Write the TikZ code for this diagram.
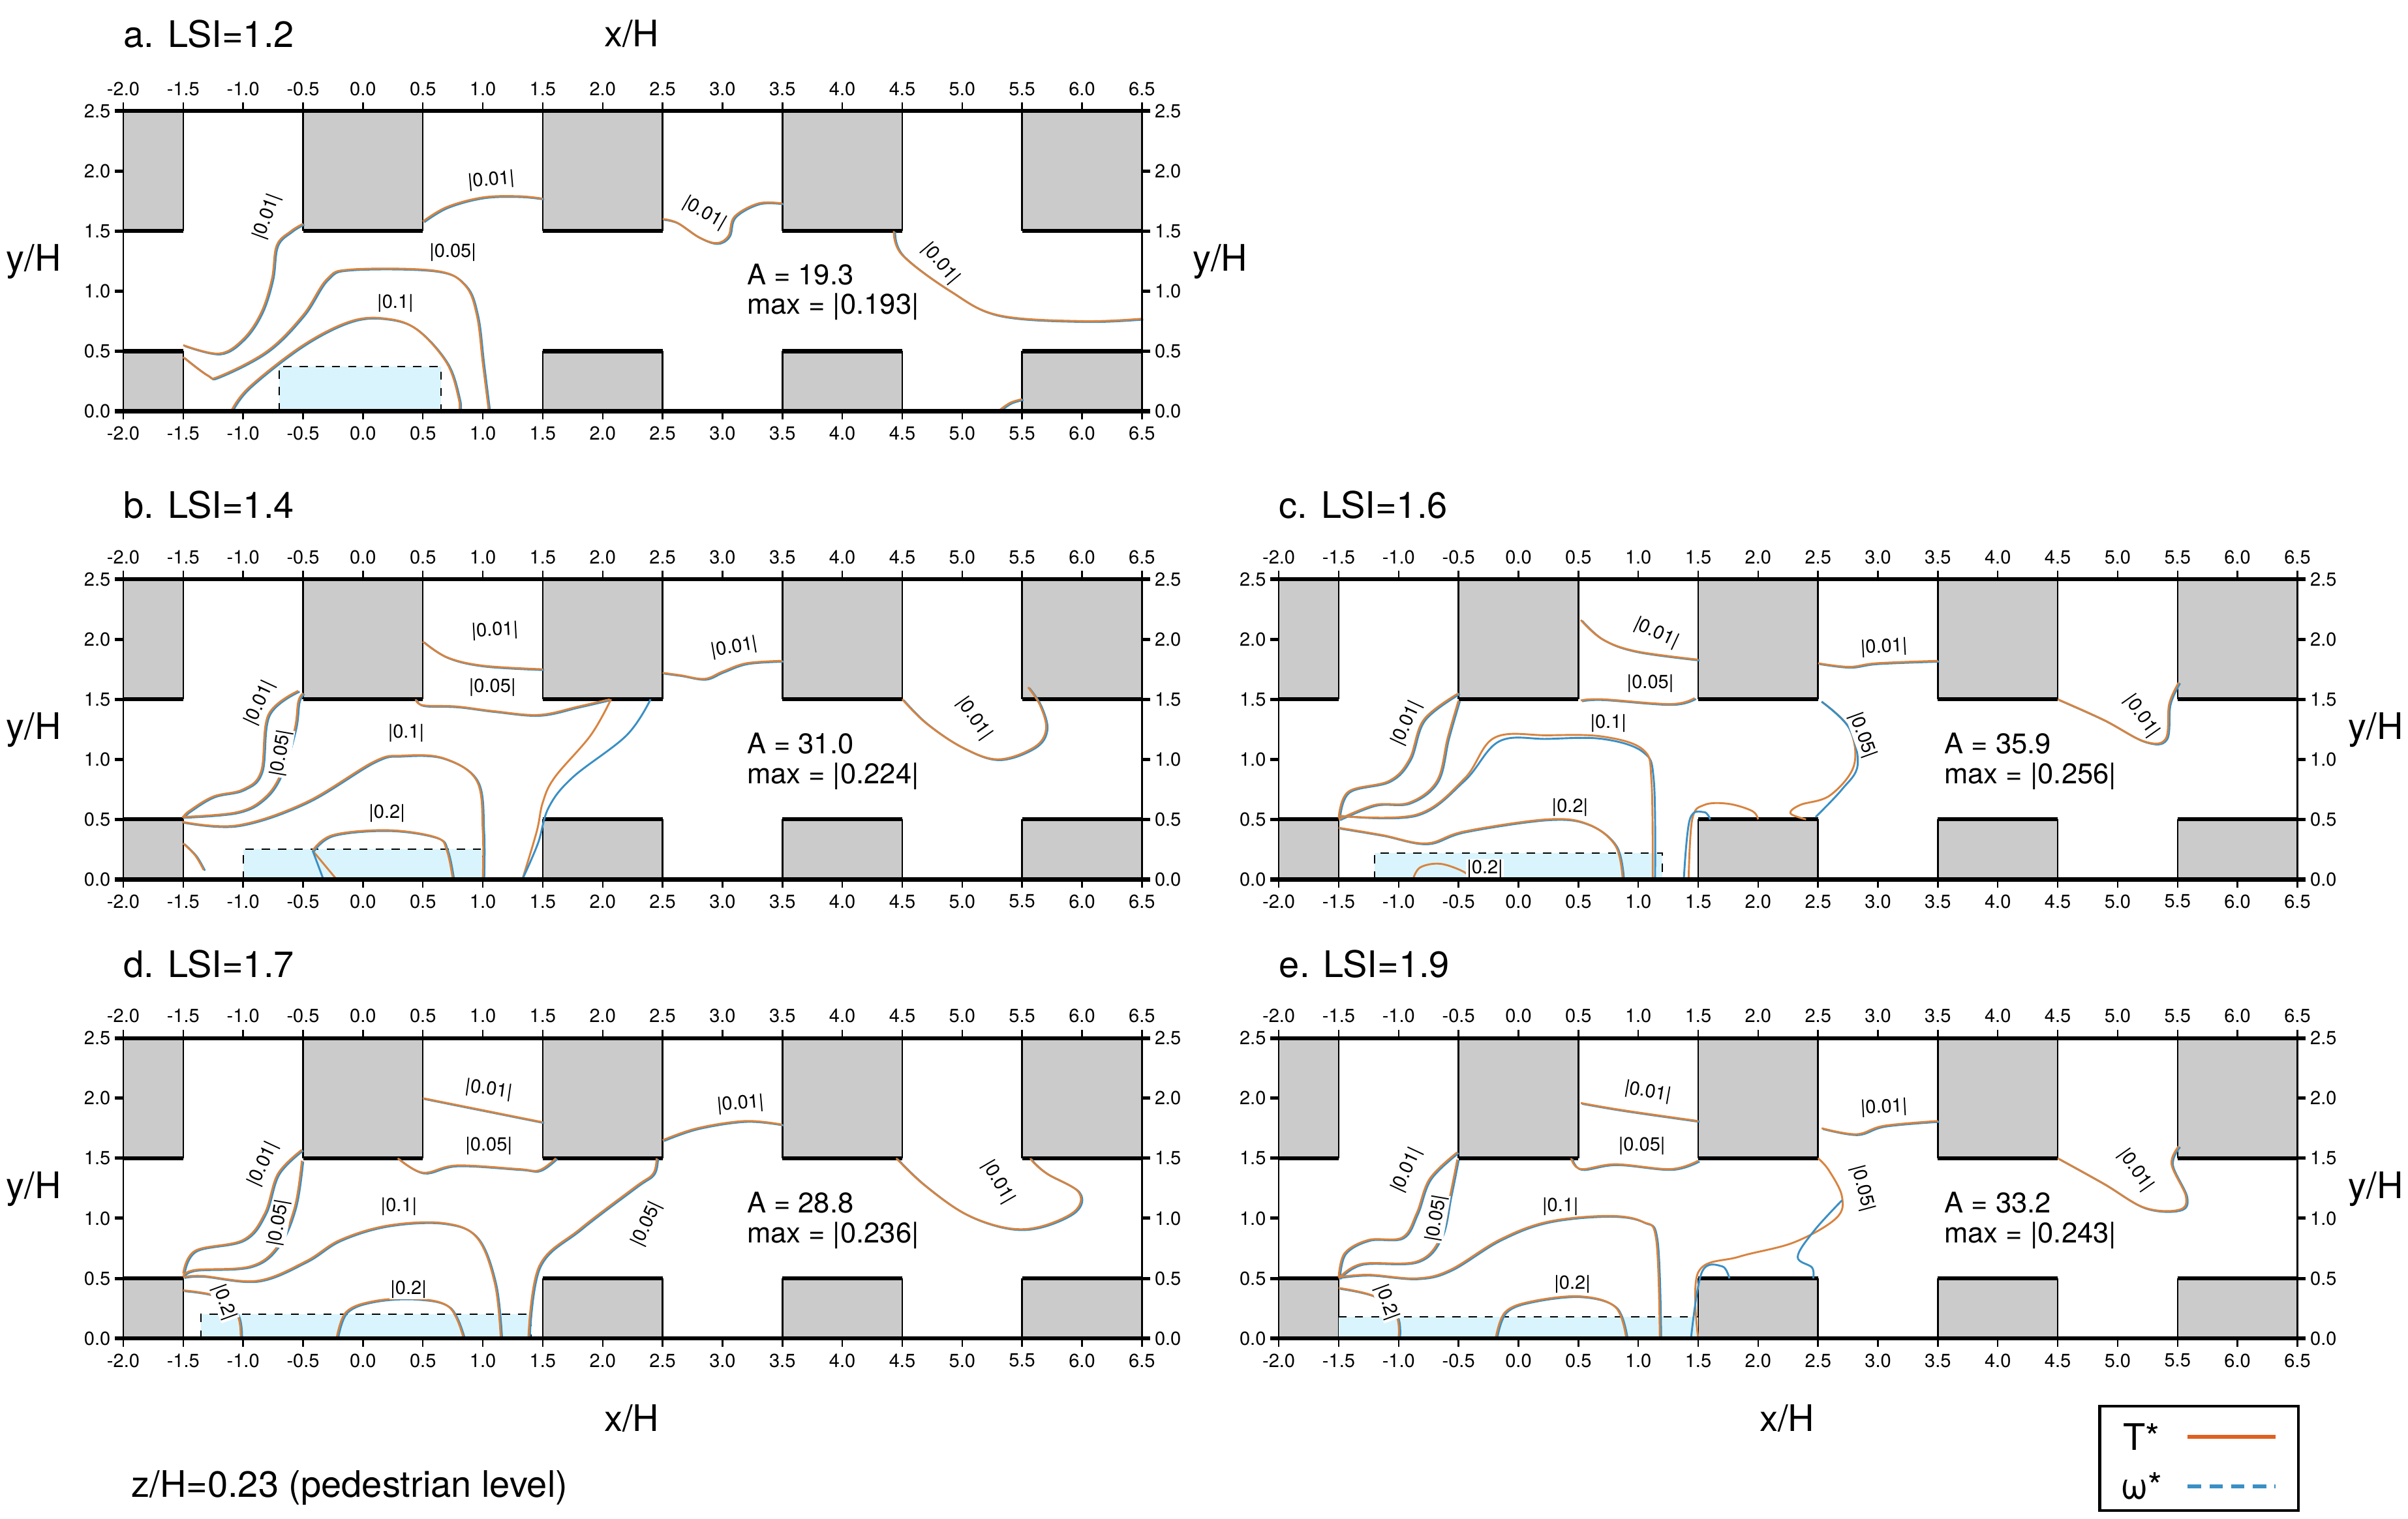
\documentclass[tikz,border=0pt]{standalone}
\usepackage{fontspec}
\setmainfont{TeX Gyre Heros}
\begin{document}
\definecolor{bld}{HTML}{CBCBCB}
\definecolor{orng}{HTML}{D8833F}
\definecolor{blu}{HTML}{3A8FC4}
\definecolor{box}{HTML}{D9F4FC}
\begin{tikzpicture}[x=0.02cm,y=-0.02cm,
  panel/.style 2 args={shift={(#1*0.02cm,-#2*0.02cm)},x=1.556cm,y=1.56cm},
  tk/.style={font=\fontsize{7}{8}\selectfont,inner sep=1pt},
  cl/.style={font=\fontsize{7}{8}\selectfont,fill=white,inner sep=0.3pt},
  ann/.style={font=\fontsize{10.5}{12}\selectfont,anchor=west,inner sep=0pt},
  ttl/.style={font=\fontsize{13.5}{15}\selectfont,anchor=west,inner sep=0pt},
  ax/.style={font=\fontsize{13.5}{15}\selectfont,inner sep=0pt},
  ob/.style={orng,line width=0.7pt},
  bb/.style={blu,line width=0.7pt},
  dbox/.style={fill=box,draw=black,dashed,line width=0.5pt}]
\useasboundingbox (0,0) rectangle (1563,986);
\newcommand\basepanel{%
  \foreach \bc in {-2,0,2,4,6}{%
    \pgfmathsetmacro\ex{min(\bc+0.5,6.5)}
    \pgfmathsetmacro\sx{max(\bc-0.5,-2)}
    \fill[bld] (\sx,1.5) rectangle (\ex,2.5);
    \draw[line width=0.6pt] (\sx,1.5) -- (\sx,2.5) (\ex,1.5) -- (\ex,2.5);
    \draw[line width=1.5pt] (\sx,1.5) -- (\ex,1.5);
  }
  \foreach \bc in {-2,2,4,6}{%
    \pgfmathsetmacro\ex{min(\bc+0.5,6.5)}
    \pgfmathsetmacro\sx{max(\bc-0.5,-2)}
    \fill[bld] (\sx,0) rectangle (\ex,0.5);
    \draw[line width=0.6pt] (\sx,0) -- (\sx,0.5) (\ex,0) -- (\ex,0.5);
    \draw[line width=1.5pt] (\sx,0.5) -- (\ex,0.5);
  }
}
\newcommand\framepanel{%
  \draw[line width=0.6pt] (-2,0) -- (-2,2.5) (6.5,0) -- (6.5,2.5);
  \draw[line width=1.5pt] (-2.07,0) -- (6.57,0) (-2.07,2.5) -- (6.57,2.5);
  \foreach \v/\t in {-2/-2.0,-1.5/-1.5,-1/-1.0,-0.5/-0.5,0/0.0,0.5/0.5,1/1.0,1.5/1.5,2/2.0,2.5/2.5,3/3.0,3.5/3.5,4/4.0,4.5/4.5,5/5.0,5.5/5.5,6/6.0,6.5/6.5}{%
    \draw[line width=0.6pt] (\v,2.5) -- (\v,2.57) (\v,0) -- (\v,-0.07);
    \node[tk,anchor=south] at (\v,2.6) {\t};
    \node[tk,anchor=north] at (\v,-0.1) {\t};
  }
  \foreach \v/\t in {0/0.0,0.5/0.5,1/1.0,1.5/1.5,2/2.0,2.5/2.5}{%
    \draw[line width=1.2pt] (6.5,\v) -- (6.57,\v) (-2,\v) -- (-2.07,\v);
    \node[tk,anchor=west] at (6.58,\v) {\t};
    \node[tk,anchor=east] at (-2.08,\v) {\t};
  }
}
\newcommand\cp[1]{%
  \draw[bb,xshift=0.5pt,yshift=-0.3pt] plot[smooth,tension=0.6] coordinates {#1};
  \draw[ob] plot[smooth,tension=0.6] coordinates {#1};}
\newcommand\co[1]{\draw[ob] plot[smooth,tension=0.6] coordinates {#1};}
\newcommand\cb[1]{\draw[bb] plot[smooth,tension=0.6] coordinates {#1};}

% ---------- panel a ----------
\begin{scope}[panel={235.6}{267}]
\basepanel
\draw[dbox] (-0.7,0) rectangle (0.65,0.37);
\cp{(-1.5,0.55) (-1.2,0.48) (-1.0,0.6) (-0.85,0.82) (-0.76,1.1) (-0.72,1.38) (-0.6,1.5) (-0.5,1.56)}
\cp{(0.5,1.58) (0.7,1.7) (1.0,1.78) (1.3,1.79) (1.5,1.77)}
\cp{(2.5,1.6) (2.62,1.57) (2.8,1.45) (2.95,1.4) (3.05,1.46) (3.1,1.62) (3.3,1.73) (3.5,1.73)}
\cp{(4.43,1.5) (4.5,1.3) (4.9,1.0) (5.3,0.8) (6.0,0.75) (6.5,0.77)}
\cp{(-1.5,0.45) (-1.3,0.3) (-1.2,0.29) (-0.8,0.5) (-0.5,0.8) (-0.3,1.1) (-0.1,1.18) (0.6,1.17) (0.85,1.05) (0.95,0.8) (1.0,0.4) (1.05,0)}
\cp{(-1.1,0) (-0.95,0.2) (-0.5,0.55) (-0.1,0.75) (0.2,0.77) (0.45,0.68) (0.7,0.4) (0.8,0.1) (0.8,0)}
\cp{(5.3,0) (5.4,0.07) (5.5,0.1)}
\node[cl,rotate=70] (a1) at (-0.8,1.62) {|0.01|};
\node[cl,rotate=5] (a2) at (1.07,1.92) {|0.01|};
\node[cl,rotate=-30] (a3) at (2.85,1.65) {|0.01|};
\node[cl,rotate=-50] (a4) at (4.82,1.23) {|0.01|};
\node[cl] (a5) at (0.75,1.32) {|0.05|};
\node[cl] (a6) at (0.27,0.9) {|0.1|};
\framepanel
\node[ann] (aA) at (3.2,1.14) {A = 19.3};
\node[ann] (aM) at (3.2,0.87) {max = |0.193|};
\end{scope}
\node[ttl] (ta) at (80,22) {a. LSI=1.2};
\node[ax] (xa) at (410,22) {x/H};
\node[ax] (ya1) at (22,170) {y/H};
\node[ax] (ya2) at (792,170) {y/H};

% ---------- panel b ----------
\begin{scope}[panel={235.6}{571}]
\basepanel
\draw[dbox] (-1.0,0) rectangle (1.0,0.25);
\cp{(0.5,1.98) (0.7,1.85) (1.0,1.78) (1.5,1.75)}
\cp{(2.5,1.72) (2.65,1.7) (2.85,1.67) (3.0,1.73) (3.2,1.8) (3.5,1.82)}
\cp{(4.5,1.5) (4.7,1.3) (5.0,1.1) (5.3,1.0) (5.6,1.1) (5.7,1.25) (5.65,1.45) (5.55,1.6)}
\cp{(-1.5,0.52) (-1.45,0.57) (-1.25,0.69) (-1.0,0.75) (-0.85,0.9) (-0.79,1.37) (-0.54,1.57)}
\cp{(-1.51,0.52) (-1.05,0.56) (-0.82,0.68) (-0.68,0.89) (-0.57,1.25) (-0.54,1.48) (-0.5,1.55)}
\cp{(0.44,1.5) (0.5,1.45) (0.78,1.44) (1.1,1.4) (1.47,1.37) (1.8,1.44) (2.06,1.5)}
\co{(2.07,1.5) (1.9,1.2) (1.6,0.85) (1.5,0.64) (1.45,0.4) (1.33,0)}
\cb{(2.4,1.5) (2.2,1.2) (1.75,0.85) (1.55,0.6) (1.46,0.3) (1.33,0)}
\cp{(-1.51,0.48) (-1.05,0.45) (-0.48,0.64) (0.09,0.98) (0.32,1.03) (0.67,1.01) (0.95,0.82) (1.0,0.4) (1.0,0)}
\cp{(-0.42,0.24) (-0.25,0.37) (0.21,0.41) (0.61,0.35) (0.7,0.24) (0.75,0)}
\co{(-0.42,0.24) (-0.22,0)}
\cb{(-0.42,0.24) (-0.33,0)}
\cp{(-1.5,0.3) (-1.4,0.2) (-1.33,0.08)}
\node[cl,rotate=65] at (-0.86,1.47) {|0.01|};
\node[cl,rotate=80] at (-0.68,1.05) {|0.05|};
\node[cl,rotate=3] at (1.1,2.07) {|0.01|};
\node[cl,rotate=10] at (3.1,1.93) {|0.01|};
\node[cl,rotate=-55] at (5.1,1.34) {|0.01|};
\node[cl] at (1.08,1.6) {|0.05|};
\node[cl] at (0.36,1.22) {|0.1|};
\node[cl] at (0.2,0.55) {|0.2|};
\framepanel
\node[ann] at (3.2,1.13) {A = 31.0};
\node[ann] at (3.2,0.86) {max = |0.224|};
\end{scope}
\node[ttl] (tb) at (80,328) {b. LSI=1.4};
\node[ax] (yb) at (22,474) {y/H};

% ---------- panel c ----------
\begin{scope}[panel={985.6}{571}]
\basepanel
\draw[dbox] (-1.2,0) rectangle (1.2,0.22);
\cp{(0.52,2.16) (0.7,2.0) (0.98,1.9) (1.5,1.83)}
\cp{(2.5,1.8) (2.76,1.77) (2.99,1.8) (3.5,1.82)}
\cp{(4.5,1.5) (4.88,1.33) (5.22,1.15) (5.4,1.17) (5.43,1.46) (5.51,1.64)}
\cp{(-1.5,0.51) (-1.42,0.73) (-1.08,0.82) (-0.91,1.0) (-0.79,1.33) (-0.5,1.55)}
\cp{(-1.5,0.5) (-1.2,0.62) (-0.91,0.64) (-0.68,0.82) (-0.59,1.18) (-0.5,1.49)}
\cb{(-1.5,0.53) (-0.85,0.53) (-0.45,0.82) (-0.16,1.15) (0.24,1.17) (0.7,1.17) (1.04,1.06) (1.13,0.82) (1.14,0)}
\co{(-1.5,0.53) (-0.85,0.54) (-0.45,0.84) (-0.2,1.18) (0.24,1.2) (0.7,1.19) (1.04,1.08) (1.11,0.82) (1.12,0)}
\cp{(-1.5,0.43) (-1.14,0.37) (-0.77,0.3) (-0.45,0.4) (0.24,0.5) (0.58,0.46) (0.81,0.28) (0.87,0)}
\co{(-0.88,0) (-0.82,0.1) (-0.65,0.13) (-0.45,0.06) (-0.42,0)}
\cp{(0.52,1.49) (0.7,1.5) (1.27,1.46) (1.47,1.51)}
\co{(2.53,1.48) (2.76,1.26) (2.8,0.95) (2.6,0.7) (2.35,0.62) (2.27,0.55) (2.4,0.5)}
\cb{(2.53,1.48) (2.76,1.26) (2.83,0.95) (2.7,0.75) (2.48,0.52)}
\co{(1.42,0) (1.45,0.5) (1.55,0.62) (1.75,0.63) (1.95,0.57) (2.0,0.5)}
\cb{(1.38,0) (1.43,0.5) (1.55,0.56) (1.6,0.5)}
\node[cl,rotate=65] at (-0.93,1.3) {|0.01|};
\node[cl,rotate=-25] at (1.15,2.05) {|0.01|};
\node[cl,rotate=3] at (3.05,1.93) {|0.01|};
\node[cl,rotate=-55] at (5.2,1.36) {|0.01|};
\node[cl] at (1.1,1.63) {|0.05|};
\node[cl,rotate=-70] at (2.87,1.2) {|0.05|};
\node[cl] at (0.75,1.3) {|0.1|};
\node[cl] at (0.43,0.6) {|0.2|};
\node[cl] at (-0.28,0.09) {|0.2|};
\framepanel
\node[ann] at (3.55,1.13) {A = 35.9};
\node[ann] at (3.55,0.86) {max = |0.256|};
\end{scope}
\node[ttl] (tc) at (830,328) {c. LSI=1.6};
\node[ax] (yc) at (1542,474) {y/H};

% ---------- panel d ----------
\begin{scope}[panel={235.6}{869}]
\basepanel
\draw[dbox] (-1.35,0) rectangle (1.4,0.2);
\cp{(0.5,2.0) (1.0,1.9) (1.5,1.8)}
\cp{(2.5,1.65) (2.79,1.75) (3.19,1.81) (3.5,1.78)}
\cp{(4.45,1.5) (4.68,1.28) (5.02,1.04) (5.37,0.92) (5.65,0.93) (5.94,1.06) (5.97,1.22) (5.71,1.37) (5.6,1.46) (5.57,1.5)}
\cp{(-1.5,0.54) (-1.4,0.73) (-1.0,0.82) (-0.82,1.04) (-0.71,1.37) (-0.51,1.57)}
\cp{(-1.5,0.52) (-1.4,0.57) (-0.94,0.6) (-0.71,0.77) (-0.57,1.09) (-0.51,1.48)}
\cp{(-1.5,0.51) (-1.34,0.52) (-0.88,0.48) (-0.48,0.64) (-0.19,0.82) (0.21,0.94) (0.67,0.96) (0.95,0.84) (1.1,0.46) (1.15,0)}
\cp{(-0.22,0) (-0.14,0.22) (0.09,0.31) (0.44,0.33) (0.72,0.26) (0.84,0)}
\cp{(-1.5,0.4) (-1.22,0.35) (-1.05,0.2) (-1.02,0)}
\cp{(0.29,1.5) (0.5,1.38) (0.78,1.44) (1.3,1.41) (1.47,1.4) (1.61,1.5)}
\cp{(1.38,0) (1.47,0.6) (1.81,0.91) (2.27,1.26) (2.42,1.37) (2.45,1.5)}
\node[cl,rotate=65] at (-0.83,1.45) {|0.01|};
\node[cl,rotate=80] at (-0.7,0.96) {|0.05|};
\node[cl,rotate=-8] at (1.05,2.07) {|0.01|};
\node[cl,rotate=5] at (3.15,1.95) {|0.01|};
\node[cl,rotate=-60] at (5.3,1.3) {|0.01|};
\node[cl] at (1.05,1.6) {|0.05|};
\node[cl,rotate=65] at (2.37,0.95) {|0.05|};
\node[cl] at (0.3,1.1) {|0.1|};
\node[cl] at (0.38,0.41) {|0.2|};
\node[cl,rotate=-70] at (-1.16,0.3) {|0.2|};
\framepanel
\node[ann] at (3.2,1.13) {A = 28.8};
\node[ann] at (3.2,0.86) {max = |0.236|};
\end{scope}
\node[ttl] (td) at (80,626) {d. LSI=1.7};
\node[ax] (yd) at (22,772) {y/H};
\node[ax] (xd) at (410,921) {x/H};

% ---------- panel e ----------
\begin{scope}[panel={985.6}{869}]
\basepanel
\fill[box] (-1.5,0) rectangle (1.5,0.18);
\draw[dashed,line width=0.5pt] (-1.5,0.18) -- (1.5,0.18);
\cp{(0.52,1.96) (0.87,1.9) (1.5,1.81)}
\cp{(2.53,1.75) (2.82,1.7) (3.05,1.77) (3.5,1.81)}
\cp{(4.5,1.5) (4.88,1.29) (5.22,1.09) (5.51,1.07) (5.57,1.18) (5.45,1.45) (5.51,1.6)}
\cp{(-1.5,0.51) (-1.45,0.71) (-1.25,0.82) (-0.97,0.84) (-0.85,1.04) (-0.74,1.33) (-0.51,1.55)}
\cp{(-1.5,0.5) (-1.31,0.62) (-0.85,0.64) (-0.65,0.84) (-0.57,1.19) (-0.51,1.49)}
\cp{(-1.5,0.51) (-1.25,0.53) (-0.85,0.5) (-0.57,0.57) (-0.16,0.82) (0.24,0.97) (0.75,1.02) (1.04,0.97) (1.15,0.82) (1.18,0)}
\cp{(-0.19,0) (-0.11,0.22) (0.12,0.31) (0.52,0.35) (0.81,0.26) (0.9,0)}
\cp{(-1.5,0.42) (-1.2,0.35) (-1.02,0.19) (-1.0,0)}
\cp{(0.44,1.5) (0.52,1.41) (0.81,1.45) (1.27,1.41) (1.5,1.48)}
\co{(1.5,0) (1.5,0.55) (1.84,0.68) (2.3,0.8) (2.65,1.0) (2.7,1.18) (2.59,1.4) (2.5,1.5)}
\cb{(2.7,1.15) (2.47,0.9) (2.33,0.68) (2.45,0.59) (2.46,0.5)}
\cb{(1.44,0) (1.53,0.55) (1.7,0.6) (1.76,0.5)}
\node[cl,rotate=65] at (-0.93,1.4) {|0.01|};
\node[cl,rotate=80] at (-0.68,1.0) {|0.05|};
\node[cl,rotate=-10] at (1.08,2.05) {|0.01|};
\node[cl,rotate=3] at (3.05,1.92) {|0.01|};
\node[cl,rotate=-55] at (5.15,1.4) {|0.01|};
\node[cl] at (1.03,1.6) {|0.05|};
\node[cl,rotate=-75] at (2.87,1.25) {|0.05|};
\node[cl] at (0.35,1.1) {|0.1|};
\node[cl] at (0.45,0.45) {|0.2|};
\node[cl,rotate=-70] at (-1.1,0.3) {|0.2|};
\framepanel
\node[ann] at (3.55,1.13) {A = 33.2};
\node[ann] at (3.55,0.86) {max = |0.243|};
\end{scope}
\node[ttl] (te) at (830,626) {e. LSI=1.9};
\node[ax] (ye) at (1542,772) {y/H};
\node[ax] (xe) at (1160,921) {x/H};

% ---------- legend & footer ----------
\node[draw,line width=1pt,minimum width=129*0.02cm,minimum height=68*0.02cm,anchor=north west,inner sep=0pt] (leg) at (1362,912) {};
\node[ax] (lT) at (1390,933) {T*};
\node[ax] (lW) at (1390,965) {ω*};
\coordinate (t1) at (1420,933); \coordinate (t2) at (1477,933);
\coordinate (w1) at (1420,965); \coordinate (w2) at (1477,965);
\draw[color={rgb,255:red,224;green,96;blue,32},line width=1.4pt] (t1) -- (t2);
\draw[blu,line width=1.4pt,dash pattern=on 5pt off 3pt] (w1) -- (w2);
\node[ttl] (foot) at (85,966) {z/H=0.23 (pedestrian level)};
\end{tikzpicture}
\end{document}
